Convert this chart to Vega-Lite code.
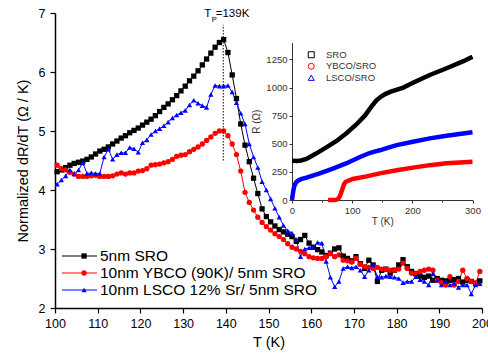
{
  "$schema": "https://vega.github.io/schema/vega-lite/v6.json",
  "width": 427,
  "height": 295,
  "autosize": {"type": "none"},
  "padding": {"left": 55, "top": 13, "right": 6, "bottom": 47},
  "background": "white",
  "config": {
    "view": {"stroke": null},
    "font": "Liberation Sans",
    "axis": {"grid": false, "labelFont": "Liberation Sans", "titleFont": "Liberation Sans", "titleFontWeight": "normal"},
    "legend": {"labelFont": "Liberation Sans", "labelLimit": 400},
    "text": {"font": "Liberation Sans"}
  },
  "datasets": {
    "main": [
      {"T":100.5,"SRO":4.31,"YBCO":4.42,"LSCO":4.10},{"T":101.5,"SRO":4.34,"YBCO":4.36,"LSCO":4.17},{"T":102.5,"SRO":4.38,"YBCO":4.34,"LSCO":4.24},{"T":103.5,"SRO":4.42,"YBCO":4.30,"LSCO":4.34},{"T":104.5,"SRO":4.45,"YBCO":4.27,"LSCO":4.27},
      {"T":105.5,"SRO":4.47,"YBCO":4.23,"LSCO":4.34},{"T":106.5,"SRO":4.49,"YBCO":4.23,"LSCO":4.46},{"T":107.5,"SRO":4.52,"YBCO":4.23,"LSCO":4.28},{"T":108.5,"SRO":4.56,"YBCO":4.24,"LSCO":4.29},{"T":109.5,"SRO":4.61,"YBCO":4.25,"LSCO":4.28},
      {"T":110.5,"SRO":4.66,"YBCO":4.23,"LSCO":4.28},{"T":111.5,"SRO":4.69,"YBCO":4.23,"LSCO":4.56},{"T":112.5,"SRO":4.73,"YBCO":4.23,"LSCO":4.69},{"T":113.5,"SRO":4.78,"YBCO":4.24,"LSCO":4.52},{"T":114.5,"SRO":4.83,"YBCO":4.27,"LSCO":4.60},
      {"T":115.5,"SRO":4.88,"YBCO":4.29,"LSCO":4.63},{"T":116.5,"SRO":4.92,"YBCO":4.27,"LSCO":4.63},{"T":117.5,"SRO":4.97,"YBCO":4.29,"LSCO":4.72},{"T":118.5,"SRO":5.01,"YBCO":4.29,"LSCO":4.70},{"T":119.5,"SRO":5.05,"YBCO":4.32,"LSCO":4.64},
      {"T":120.5,"SRO":5.10,"YBCO":4.33,"LSCO":4.80},{"T":121.5,"SRO":5.15,"YBCO":4.36,"LSCO":4.85},{"T":122.5,"SRO":5.20,"YBCO":4.42,"LSCO":4.94},{"T":123.5,"SRO":5.26,"YBCO":4.43,"LSCO":5.00},{"T":124.5,"SRO":5.33,"YBCO":4.44,"LSCO":5.04},
      {"T":125.5,"SRO":5.40,"YBCO":4.46,"LSCO":5.09},{"T":126.5,"SRO":5.46,"YBCO":4.48,"LSCO":5.15},{"T":127.5,"SRO":5.53,"YBCO":4.52,"LSCO":5.22},{"T":128.5,"SRO":5.60,"YBCO":4.57,"LSCO":5.27},{"T":129.5,"SRO":5.68,"YBCO":4.59,"LSCO":5.31},
      {"T":130.5,"SRO":5.76,"YBCO":4.60,"LSCO":5.35},{"T":131.5,"SRO":5.85,"YBCO":4.65,"LSCO":5.44},{"T":132.5,"SRO":5.93,"YBCO":4.69,"LSCO":5.52},{"T":133.5,"SRO":6.02,"YBCO":4.73,"LSCO":5.47},{"T":134.5,"SRO":6.12,"YBCO":4.78,"LSCO":5.43},
      {"T":135.5,"SRO":6.22,"YBCO":4.84,"LSCO":5.40},{"T":136.5,"SRO":6.32,"YBCO":4.90,"LSCO":5.62},{"T":137.5,"SRO":6.42,"YBCO":4.96,"LSCO":5.77},{"T":138.5,"SRO":6.50,"YBCO":5.00,"LSCO":5.76},{"T":139.5,"SRO":6.55,"YBCO":5.00,"LSCO":5.76},
      {"T":140.5,"SRO":6.33,"YBCO":4.92,"LSCO":5.77},{"T":141.5,"SRO":5.95,"YBCO":4.78,"LSCO":5.66},{"T":142.5,"SRO":5.55,"YBCO":4.60,"LSCO":5.48},{"T":143.5,"SRO":5.12,"YBCO":4.32,"LSCO":5.30},{"T":144.5,"SRO":4.76,"YBCO":3.96,"LSCO":5.12},
      {"T":145.5,"SRO":4.48,"YBCO":3.79,"LSCO":4.78},{"T":146.5,"SRO":4.20,"YBCO":3.66,"LSCO":4.56},{"T":147.5,"SRO":3.94,"YBCO":3.54,"LSCO":4.38},{"T":148.5,"SRO":3.68,"YBCO":3.45,"LSCO":4.14},{"T":149.5,"SRO":3.55,"YBCO":3.38,"LSCO":4.00},
      {"T":150.5,"SRO":3.46,"YBCO":3.32,"LSCO":3.85},{"T":151.5,"SRO":3.39,"YBCO":3.26,"LSCO":3.69},{"T":152.5,"SRO":3.33,"YBCO":3.21,"LSCO":3.54},{"T":153.5,"SRO":3.29,"YBCO":3.16,"LSCO":3.40},{"T":154.5,"SRO":3.25,"YBCO":3.09,"LSCO":3.31},
      {"T":155.5,"SRO":3.21,"YBCO":3.03,"LSCO":3.27},{"T":156.5,"SRO":3.13,"YBCO":3.00,"LSCO":3.16},{"T":157.5,"SRO":3.16,"YBCO":2.96,"LSCO":2.87},{"T":158.5,"SRO":3.23,"YBCO":2.92,"LSCO":3.00},{"T":159.5,"SRO":3.10,"YBCO":2.87,"LSCO":3.02},
      {"T":160.5,"SRO":3.03,"YBCO":2.85,"LSCO":3.04},{"T":161.5,"SRO":2.99,"YBCO":2.84,"LSCO":3.11},{"T":162.5,"SRO":2.95,"YBCO":2.84,"LSCO":3.10},{"T":163.5,"SRO":2.89,"YBCO":2.87,"LSCO":2.79},{"T":164.5,"SRO":2.93,"YBCO":2.92,"LSCO":2.52},
      {"T":165.5,"SRO":3.00,"YBCO":2.87,"LSCO":2.36},{"T":166.5,"SRO":3.02,"YBCO":2.90,"LSCO":2.45},{"T":167.5,"SRO":2.88,"YBCO":2.81,"LSCO":2.67},{"T":168.5,"SRO":2.84,"YBCO":2.80,"LSCO":2.70},{"T":169.5,"SRO":2.80,"YBCO":2.78,"LSCO":2.68},
      {"T":170.5,"SRO":2.87,"YBCO":2.84,"LSCO":2.70},{"T":171.5,"SRO":2.75,"YBCO":2.74,"LSCO":2.64},{"T":172.5,"SRO":2.67,"YBCO":2.70,"LSCO":2.53},{"T":173.5,"SRO":2.81,"YBCO":2.69,"LSCO":2.64},{"T":174.5,"SRO":2.73,"YBCO":2.67,"LSCO":2.73},
      {"T":175.5,"SRO":2.45,"YBCO":2.69,"LSCO":2.53},{"T":176.5,"SRO":2.64,"YBCO":2.66,"LSCO":2.52},{"T":177.5,"SRO":2.66,"YBCO":2.66,"LSCO":2.54},{"T":178.5,"SRO":2.59,"YBCO":2.64,"LSCO":2.53},{"T":179.5,"SRO":2.64,"YBCO":2.64,"LSCO":2.52},
      {"T":180.5,"SRO":2.73,"YBCO":2.66,"LSCO":2.50},{"T":181.5,"SRO":2.82,"YBCO":2.76,"LSCO":2.43},{"T":182.5,"SRO":2.70,"YBCO":2.67,"LSCO":2.45},{"T":183.5,"SRO":2.62,"YBCO":2.59,"LSCO":2.45},{"T":184.5,"SRO":2.58,"YBCO":2.59,"LSCO":2.53},
      {"T":185.5,"SRO":2.54,"YBCO":2.62,"LSCO":2.48},{"T":186.5,"SRO":2.52,"YBCO":2.64,"LSCO":2.45},{"T":187.5,"SRO":2.54,"YBCO":2.66,"LSCO":2.39},{"T":188.5,"SRO":2.47,"YBCO":2.64,"LSCO":2.58},{"T":189.5,"SRO":2.50,"YBCO":2.47,"LSCO":2.47},
      {"T":190.5,"SRO":2.47,"YBCO":2.43,"LSCO":2.39},{"T":191.5,"SRO":2.46,"YBCO":2.39,"LSCO":2.45},{"T":192.5,"SRO":2.47,"YBCO":2.53,"LSCO":2.39},{"T":193.5,"SRO":2.48,"YBCO":2.39,"LSCO":2.42},{"T":194.5,"SRO":2.50,"YBCO":2.45,"LSCO":2.35},
      {"T":195.5,"SRO":2.44,"YBCO":2.64,"LSCO":2.39},{"T":196.5,"SRO":2.47,"YBCO":2.50,"LSCO":2.39},{"T":197.5,"SRO":2.45,"YBCO":2.45,"LSCO":2.24},{"T":198.5,"SRO":2.42,"YBCO":2.42,"LSCO":2.39},{"T":199.5,"SRO":2.46,"YBCO":2.62,"LSCO":2.41}
    ],
    "inset": [
      {"T":0,"R":350,"k":"SRO"},{"T":8,"R":348,"k":"SRO"},{"T":15,"R":352,"k":"SRO"},{"T":24,"R":365,"k":"SRO"},{"T":40,"R":413,"k":"SRO"},{"T":57,"R":468,"k":"SRO"},{"T":74,"R":525,"k":"SRO"},{"T":90,"R":592,"k":"SRO"},{"T":107,"R":672,"k":"SRO"},{"T":121,"R":750,"k":"SRO"},{"T":132,"R":830,"k":"SRO"},{"T":140,"R":885,"k":"SRO"},{"T":148,"R":920,"k":"SRO"},{"T":155,"R":942,"k":"SRO"},{"T":163,"R":962,"k":"SRO"},{"T":185,"R":1000,"k":"SRO"},{"T":201,"R":1042,"k":"SRO"},{"T":229,"R":1112,"k":"SRO"},{"T":257,"R":1172,"k":"SRO"},{"T":285,"R":1235,"k":"SRO"},{"T":300,"R":1275,"k":"SRO"},
      {"T":60,"R":0,"k":"YBCO/SRO"},{"T":70,"R":0,"k":"YBCO/SRO"},{"T":74,"R":3,"k":"YBCO/SRO"},{"T":77,"R":12,"k":"YBCO/SRO"},{"T":79,"R":30,"k":"YBCO/SRO"},{"T":81,"R":55,"k":"YBCO/SRO"},{"T":83,"R":85,"k":"YBCO/SRO"},{"T":85,"R":118,"k":"YBCO/SRO"},{"T":87,"R":145,"k":"YBCO/SRO"},{"T":89,"R":160,"k":"YBCO/SRO"},{"T":95,"R":175,"k":"YBCO/SRO"},{"T":101,"R":187,"k":"YBCO/SRO"},{"T":124,"R":210,"k":"YBCO/SRO"},{"T":146,"R":237,"k":"YBCO/SRO"},{"T":174,"R":265,"k":"YBCO/SRO"},{"T":201,"R":288,"k":"YBCO/SRO"},{"T":229,"R":310,"k":"YBCO/SRO"},{"T":257,"R":326,"k":"YBCO/SRO"},{"T":300,"R":341,"k":"YBCO/SRO"},
      {"T":0,"R":0,"k":"LSCO/SRO"},{"T":1,"R":40,"k":"LSCO/SRO"},{"T":2,"R":75,"k":"LSCO/SRO"},{"T":3,"R":105,"k":"LSCO/SRO"},{"T":4,"R":125,"k":"LSCO/SRO"},{"T":5,"R":140,"k":"LSCO/SRO"},{"T":7,"R":158,"k":"LSCO/SRO"},{"T":10,"R":172,"k":"LSCO/SRO"},{"T":15,"R":185,"k":"LSCO/SRO"},{"T":24,"R":199,"k":"LSCO/SRO"},{"T":46,"R":237,"k":"LSCO/SRO"},{"T":68,"R":280,"k":"LSCO/SRO"},{"T":90,"R":325,"k":"LSCO/SRO"},{"T":112,"R":380,"k":"LSCO/SRO"},{"T":129,"R":418,"k":"LSCO/SRO"},{"T":140,"R":435,"k":"LSCO/SRO"},{"T":146,"R":442,"k":"LSCO/SRO"},{"T":160,"R":465,"k":"LSCO/SRO"},{"T":174,"R":488,"k":"LSCO/SRO"},{"T":201,"R":518,"k":"LSCO/SRO"},{"T":229,"R":548,"k":"LSCO/SRO"},{"T":257,"R":572,"k":"LSCO/SRO"},{"T":300,"R":602,"k":"LSCO/SRO"}
    ]
  },
  "layer": [
    {
      "layer": [
        {
          "data": {"name": "main"},
          "transform": [{"fold": ["SRO", "YBCO", "LSCO"], "as": ["series", "v"]}],
          "mark": {"type": "line", "strokeWidth": 1},
          "encoding": {
            "x": {"field": "T", "type": "quantitative", "scale": {"domain": [100, 200], "nice": false},
              "axis": {"title": "T (K)", "format": "d", "values": [100,105,110,115,120,125,130,135,140,145,150,155,160,165,170,175,180,185,190,195,200],
                "labelExpr": "datum.value % 10 === 0 ? datum.label : ''",
                "tickSize": {"condition": {"test": "datum.value % 10 === 0", "value": 5}, "value": 3},
                "domainColor": "black", "domainWidth": 1.5, "tickColor": "black", "tickWidth": 1.2,
                "labelFontSize": 12.5, "labelColor": "black", "labelPadding": 4, "labelFlush": false, "labelOverlap": false,
                "titleFontSize": 14.5, "titleColor": "black", "titlePadding": 6}},
            "y": {"field": "v", "type": "quantitative", "scale": {"domain": [2, 7], "nice": false},
              "axis": {"title": "Normalized dR/dT  (Ω / K)", "format": "~g", "values": [2,2.5,3,3.5,4,4.5,5,5.5,6,6.5,7],
                "labelExpr": "datum.value % 1 === 0 ? datum.label : ''",
                "tickSize": {"condition": {"test": "datum.value % 1 === 0", "value": 5}, "value": 3},
                "domainColor": "black", "domainWidth": 1.5, "tickColor": "black", "tickWidth": 1.2,
                "labelFontSize": 12.5, "labelColor": "black", "labelPadding": 5, "labelOverlap": false,
                "titleFontSize": 14.5, "titleColor": "black", "titlePadding": 8}},
            "stroke": {"field": "series", "type": "nominal", "scale": {"domain": ["SRO", "YBCO", "LSCO"], "range": ["#000000", "#ff0000", "#0000ff"]},
              "legend": {"orient": "none", "legendX": 16, "legendY": 234.5, "title": null, "padding": 0,
                "labelFontSize": 15.5, "labelColor": "black", "labelOffset": 12, "symbolSize": 256, "rowPadding": 0,
                "symbolType": "M-2.19,0H2.19", "symbolStrokeWidth": 1, "symbolOpacity": 1,
                "labelExpr": "datum.value === 'SRO' ? '5nm SRO' : datum.value === 'YBCO' ? '10nm YBCO (90K)/ 5nm SRO' : '10nm LSCO 12% Sr/ 5nm SRO'"}}
          }
        },
        {
          "data": {"name": "main"},
          "transform": [{"fold": ["SRO", "YBCO", "LSCO"], "as": ["s", "v"]}],
          "mark": {"type": "point", "filled": true, "opacity": 1, "size": 28},
          "encoding": {
            "x": {"field": "T", "type": "quantitative"},
            "y": {"field": "v", "type": "quantitative"},
            "color": {"field": "s", "type": "nominal", "scale": {"domain": ["SRO", "YBCO", "LSCO"], "range": ["#000000", "#ff0000", "#0000ff"]},
              "legend": {"orient": "none", "legendX": 21.35, "legendY": 235.25, "title": null, "padding": 0,
                "labelFontSize": 15.5, "labelOffset": 2, "symbolSize": 28, "rowPadding": 0, "symbolOpacity": 1, "labelExpr": "' '"}},
            "shape": {"field": "s", "type": "nominal", "scale": {"domain": ["SRO", "YBCO", "LSCO"], "range": ["square", "circle", "triangle-up"]},
              "legend": {"orient": "none", "legendX": 21.35, "legendY": 235.25, "title": null, "padding": 0,
                "labelFontSize": 15.5, "labelOffset": 2, "symbolSize": 28, "rowPadding": 0, "symbolOpacity": 1, "labelExpr": "' '"}}
          }
        },
        {
          "data": {"values": [{"T": 139.4, "lo": 4.5, "hi": 6.8}]},
          "mark": {"type": "rule", "color": "black", "strokeWidth": 1, "strokeDash": [1.5, 1.5]},
          "encoding": {"x": {"field": "T", "type": "quantitative"}, "y": {"field": "lo", "type": "quantitative"}, "y2": {"field": "hi"}}
        },
        {
          "data": {"values": [{"T": 139.4, "v": 6.93, "txt": "T"}]},
          "mark": {"type": "text", "align": "left", "baseline": "alphabetic", "fontSize": 11.5, "color": "black", "dx": -19},
          "encoding": {"x": {"field": "T", "type": "quantitative"}, "y": {"field": "v", "type": "quantitative"}, "text": {"field": "txt"}}
        },
        {
          "data": {"values": [{"T": 139.4, "v": 6.93, "txt": "P"}]},
          "mark": {"type": "text", "align": "left", "baseline": "alphabetic", "fontSize": 7.5, "color": "black", "dx": -11.5, "dy": 5},
          "encoding": {"x": {"field": "T", "type": "quantitative"}, "y": {"field": "v", "type": "quantitative"}, "text": {"field": "txt"}}
        },
        {
          "data": {"values": [{"T": 139.4, "v": 6.93, "txt": "=139K"}]},
          "mark": {"type": "text", "align": "left", "baseline": "alphabetic", "fontSize": 11.5, "color": "black", "dx": -7.5},
          "encoding": {"x": {"field": "T", "type": "quantitative"}, "y": {"field": "v", "type": "quantitative"}, "text": {"field": "txt"}}
        }
      ]
    },
    {
      "data": {"name": "inset"},
      "layer": [
        {
          "mark": {"type": "line", "strokeWidth": 4.5},
          "encoding": {
            "x": {"field": "T", "type": "quantitative", "scale": {"domain": [0, 300], "range": [237, 417.5], "nice": false},
              "axis": {"orient": "bottom", "offset": -108, "title": "T (K)", "format": "d", "values": [0,50,100,150,200,250,300],
                "labelExpr": "datum.value % 100 === 0 ? datum.label : ''",
                "tickSize": {"condition": {"test": "datum.value % 100 === 0", "value": 3}, "value": 2},
                "domainColor": "#333333", "tickColor": "#333333", "labelFontSize": 9.5, "labelColor": "#333333",
                "labelPadding": 2, "labelFlush": false, "labelOverlap": false, "titleFontSize": 10, "titleColor": "#333333", "titlePadding": 2}},
            "y": {"field": "R", "type": "quantitative", "scale": {"domain": [0, 1400], "range": [187, 29.6], "nice": false},
              "axis": {"orient": "left", "offset": -237, "title": "R (Ω)", "format": "d", "values": [0,125,250,375,500,625,750,875,1000,1125,1250,1375],
                "labelExpr": "datum.value % 250 === 0 ? datum.label : ''",
                "tickSize": {"condition": {"test": "datum.value % 250 === 0", "value": 3}, "value": 2},
                "domainColor": "#333333", "tickColor": "#333333", "labelFontSize": 9.5, "labelColor": "#333333",
                "labelPadding": 2, "labelOverlap": false, "titleFontSize": 10, "titleColor": "#333333", "titlePadding": 4}},
            "color": {"field": "k", "type": "nominal", "scale": {"domain": ["SRO", "YBCO/SRO", "LSCO/SRO"], "range": ["#000000", "#ff0000", "#0000ff"]}}
          }
        },
        {
          "mark": {"type": "point", "filled": false, "opacity": 0, "size": 36, "strokeWidth": 1},
          "encoding": {
            "x": {"field": "T", "type": "quantitative"},
            "y": {"field": "R", "type": "quantitative"},
            "color": {"field": "k", "type": "nominal",
              "legend": {"orient": "none", "legendX": 251.5, "legendY": 37, "title": null, "padding": 0, "labelFontSize": 9.5, "labelColor": "#333333", "labelOffset": 10, "symbolSize": 36, "rowPadding": 0.5, "symbolOpacity": 1, "symbolStrokeWidth": 1, "symbolFillColor": "transparent"}},
            "shape": {"field": "k", "type": "nominal", "scale": {"domain": ["SRO", "YBCO/SRO", "LSCO/SRO"], "range": ["square", "circle", "triangle-up"]},
              "legend": {"orient": "none", "legendX": 251.5, "legendY": 37, "title": null, "padding": 0, "labelFontSize": 9.5, "labelColor": "#333333", "labelOffset": 10, "symbolSize": 36, "rowPadding": 0.5, "symbolOpacity": 1, "symbolStrokeWidth": 1, "symbolFillColor": "transparent"}}
          }
        }
      ]
    }
  ],
  "resolve": {
    "scale": {"x": "independent", "y": "independent", "color": "independent", "shape": "independent"},
    "axis": {"x": "independent", "y": "independent"},
    "legend": {"color": "independent", "shape": "independent"}
  }
}
